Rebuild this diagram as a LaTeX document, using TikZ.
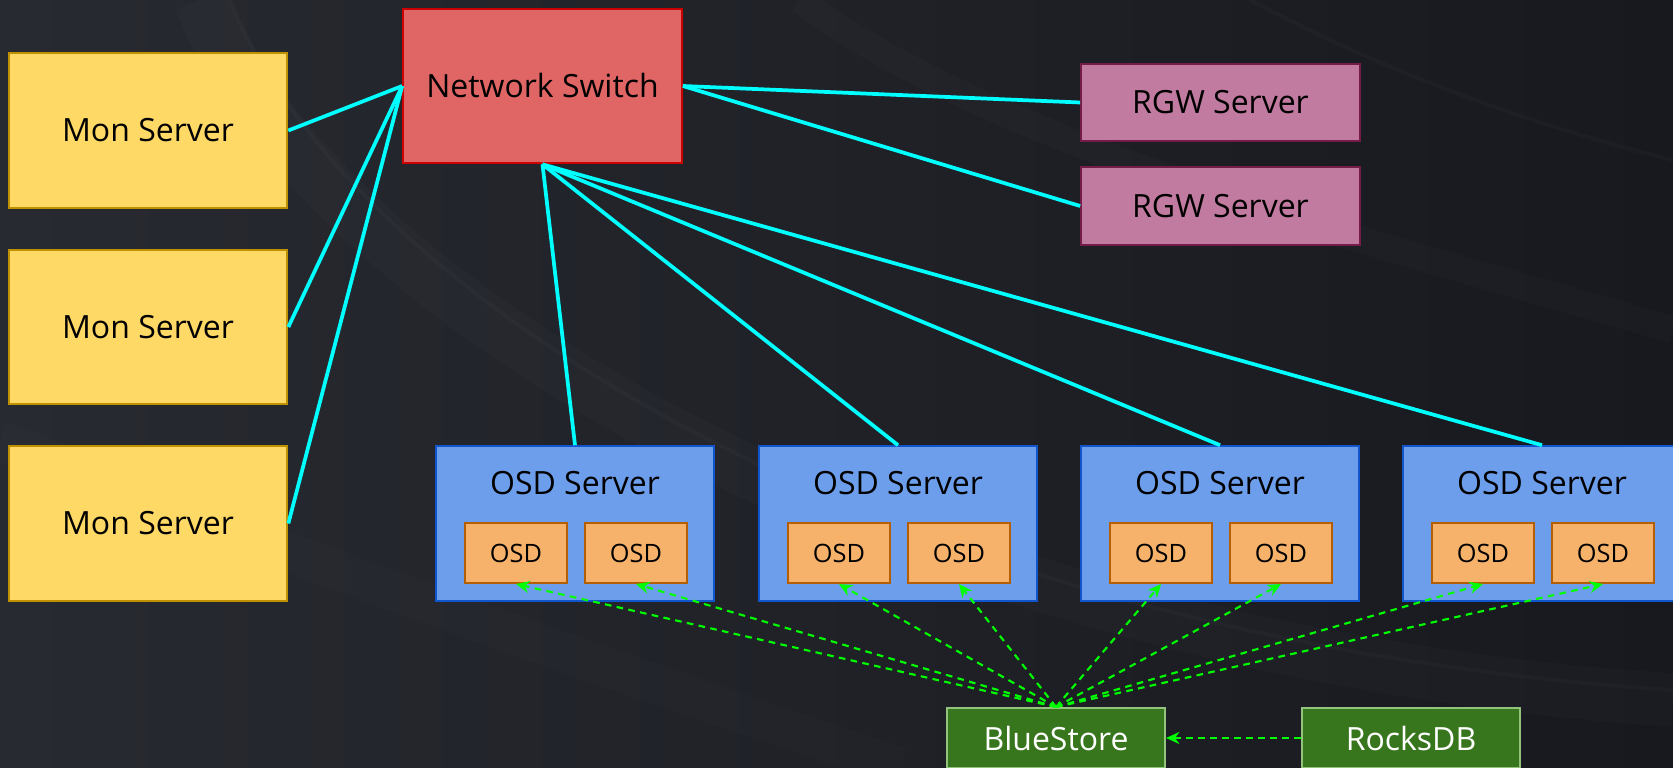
\documentclass[tikz,border=0pt]{standalone}
\usepackage{fontspec}
\setmainfont{Open Sans}
\usetikzlibrary{arrows.meta}
\definecolor{bgA}{HTML}{282A31}
\definecolor{bgB}{HTML}{17191E}
\definecolor{monF}{HTML}{FFD966}
\definecolor{monD}{HTML}{BF9000}
\definecolor{swF}{HTML}{E06666}
\definecolor{swD}{HTML}{CC0000}
\definecolor{rgwF}{HTML}{C27BA0}
\definecolor{rgwD}{HTML}{741B47}
\definecolor{osdsF}{HTML}{6D9EEB}
\definecolor{osdsD}{HTML}{1155CC}
\definecolor{osdF}{HTML}{F6B26B}
\definecolor{osdD}{HTML}{B45F06}
\definecolor{grF}{HTML}{38761D}
\definecolor{grD}{HTML}{93C47D}
\definecolor{cyanL}{HTML}{00FFFF}
\definecolor{greenL}{HTML}{00FF00}
\tikzset{
  box/.style={draw, line width=1.5pt, inner sep=0pt, font=\fontsize{24}{28}\selectfont, text=black},
  monbox/.style={box, fill=monF, draw=monD, minimum width=209pt, minimum height=116pt},
  swbox/.style={box, fill=swF, draw=swD, minimum width=209pt, minimum height=116pt},
  rgwbox/.style={box, fill=rgwF, draw=rgwD, minimum width=209pt, minimum height=58pt},
  srvbox/.style={box, fill=osdsF, draw=osdsD, minimum width=209pt, minimum height=116pt},
  srvlabel/.style={inner sep=0pt, font=\fontsize{24}{28}\selectfont, text=black},
  osdbox/.style={box, fill=osdF, draw=osdD, minimum width=77pt, minimum height=45pt, font=\fontsize{19}{22}\selectfont},
  gbox/.style={box, fill=grF, draw=grD, text=white, minimum width=163.5pt, minimum height=45pt},
  net/.style={draw=cyanL, line width=2.8pt},
  store/.style={draw=greenL, line width=1.6pt, dash pattern=on 5pt off 4pt, -{Stealth[length=10pt,width=9pt]}},
}
\begin{document}
\begin{tikzpicture}[x=0.75pt,y=-0.75pt]
\useasboundingbox (0,0) rectangle (1673,767);
\shade[left color=bgA, right color=bgB] (0,0) rectangle (1673,767);
\begin{scope}[draw=white]
  \draw[opacity=0.015, line width=40pt] (200,0) .. controls (320,300) and (900,650) .. (1673,700);
  \draw[opacity=0.02, line width=3pt] (230,0) .. controls (350,300) and (900,640) .. (1673,690);
  \draw[opacity=0.015, line width=20pt] (800,0) .. controls (1000,150) and (1400,250) .. (1673,330);
  \draw[opacity=0.02, line width=3pt] (1250,0) .. controls (1400,80) and (1550,130) .. (1673,160);
  \draw[opacity=0.012, line width=30pt] (0,440) .. controls (400,600) and (700,700) .. (900,767);
\end{scope}

% nodes
\node[monbox] (mon1) at (148,130.5) {Mon Server};
\node[monbox] (mon2) at (148,327) {Mon Server};
\node[monbox] (mon3) at (148,523.5) {Mon Server};
\node[swbox] (sw) at (542.5,86) {Network Switch};
\node[rgwbox] (rgw1) at (1220.5,102.5) {RGW Server};
\node[rgwbox] (rgw2) at (1220.5,206) {RGW Server};

\foreach \i/\cx in {1/575,2/898,3/1220,4/1542}{
  \node[srvbox] (srv\i) at (\cx,523.5) {};
  \node[srvlabel] (srvl\i) at (\cx,483) {OSD Server};
  \node[osdbox] (osd\i a) at (\cx-59,553) {OSD};
  \node[osdbox] (osd\i b) at (\cx+61,553) {OSD};
}

\node[gbox] (blue) at (1056,738) {BlueStore};
\node[gbox] (rocks) at (1411,738) {RocksDB};

% network links
\draw[net] (mon1.east) -- (sw.west);
\draw[net] (mon2.east) -- (sw.west);
\draw[net] (mon3.east) -- (sw.west);
\draw[net] (sw.east) -- (rgw1.west);
\draw[net] (sw.east) -- (rgw2.west);
\foreach \i in {1,2,3,4}{
  \draw[net] (sw.south) -- (srv\i.north);
}

% storage links
\foreach \i in {1,2,3,4}{
  \draw[store] (blue.north) -- (osd\i a.south);
  \draw[store] (blue.north) -- (osd\i b.south);
}
\draw[store] (rocks.west) -- (blue.east);
\end{tikzpicture}
\end{document}
